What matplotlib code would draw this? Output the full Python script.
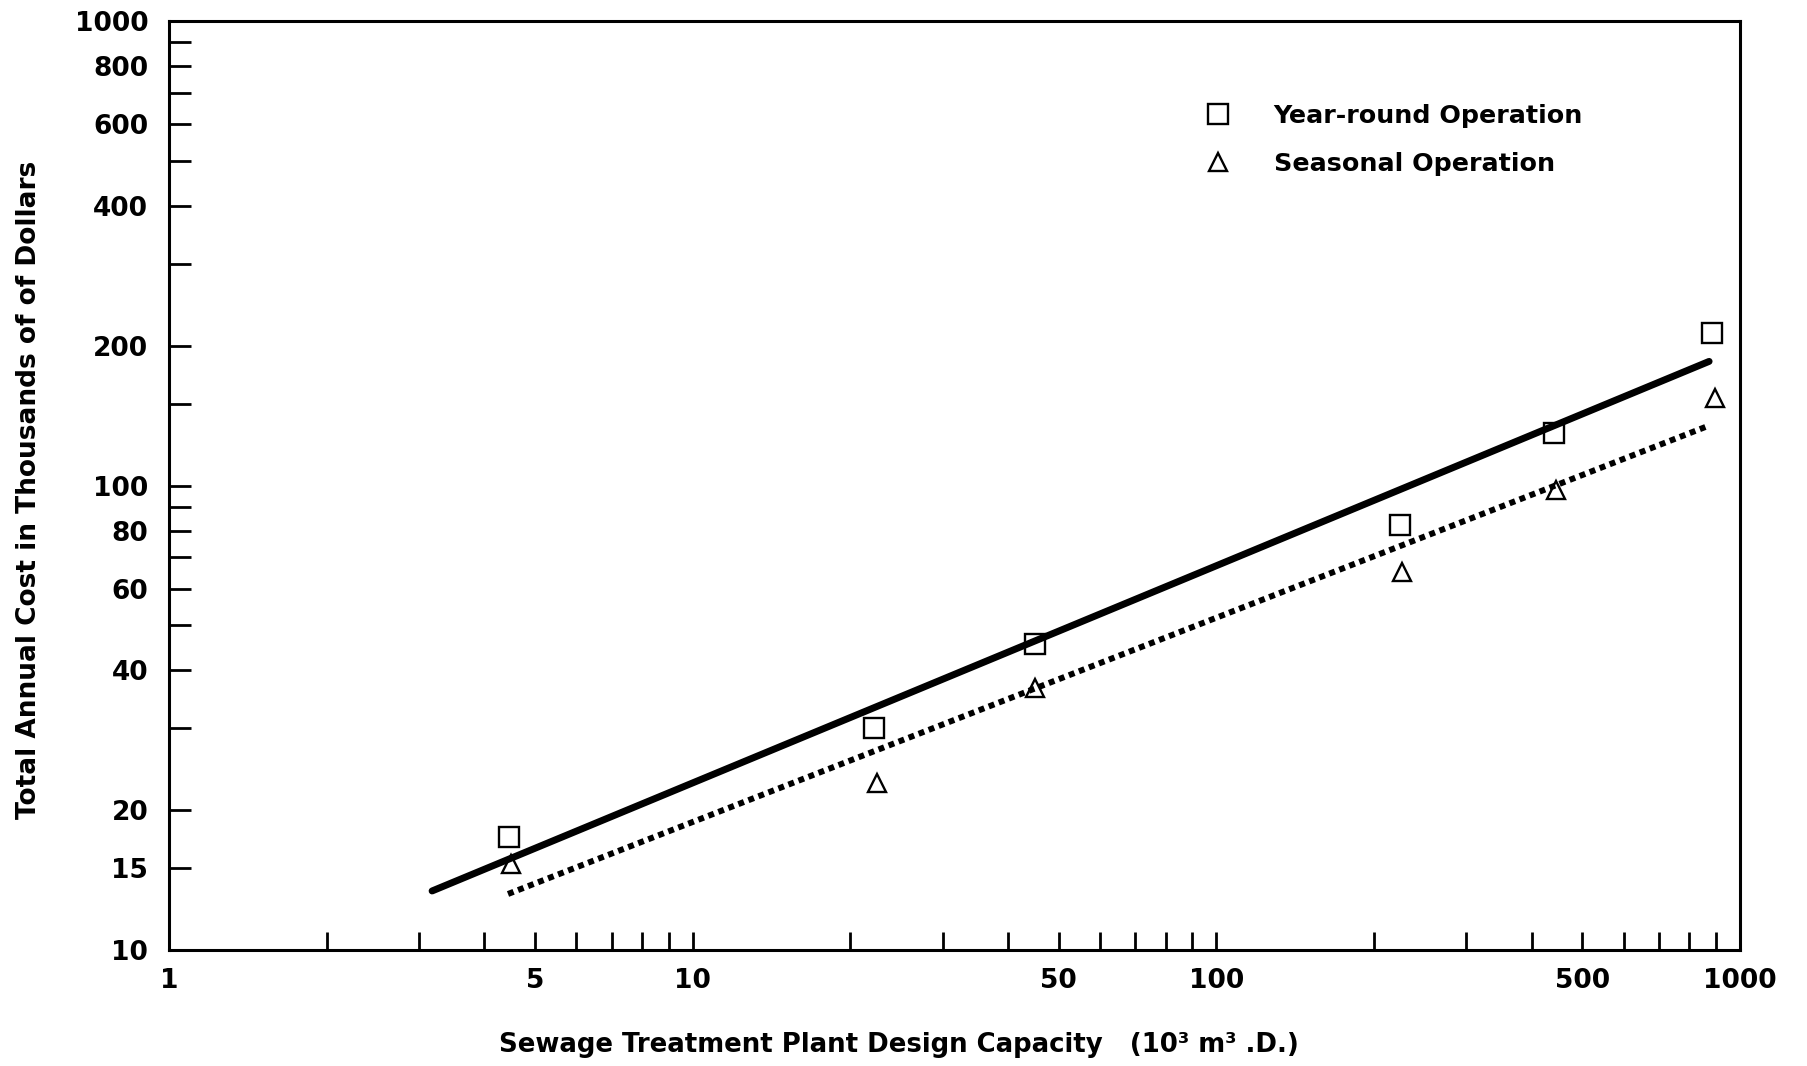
import matplotlib
matplotlib.use("Agg")
import matplotlib.pyplot as plt
from matplotlib.ticker import FixedLocator, NullFormatter, FixedFormatter

# ---- data ----
capacity_year = [4.45, 22.2, 45.0, 224, 442, 886]
cost_year = [17.5, 30.1, 45.5, 82.3, 130, 213]

capacity_seasonal = [4.5, 22.5, 45.0, 226, 445, 895]
cost_seasonal = [15.3, 22.9, 36.6, 65.1, 97.7, 154]

fit_year_x = [3.18, 873]
fit_year_y = [13.4, 185]
fit_seasonal_x = [4.44, 864]
fit_seasonal_y = [13.2, 134]

x_major = [1, 5, 10, 50, 100, 500, 1000]
x_major_labels = ["1", "5", "10", "50", "100", "500", "1000"]
x_minor = [2, 3, 4, 6, 7, 8, 9, 20, 30, 40, 60, 70, 80, 90,
           200, 300, 400, 600, 700, 800, 900]
y_major = [10, 15, 20, 40, 60, 80, 100, 200, 400, 600, 800, 1000]
y_major_labels = ["10", "15", "20", "40", "60", "80", "100", "200",
                  "400", "600", "800", "1000"]
y_minor = [30, 50, 70, 90, 150, 300, 500, 700, 900]

label_year = "Year-round Operation"
label_seasonal = "Seasonal Operation"
xlabel = "Sewage Treatment Plant Design Capacity   (10\u00b3 m\u00b3 .D.)"
ylabel = "Total Annual Cost in Thousands of of Dollars"

# ---- figure ----
plt.rcParams['font.family'] = ['DejaVu Sans']
plt.rcParams['font.weight'] = 'bold'
FS_TICK = 19
FS_XL = 18.7
FS_YL = 19
FS_LEG = 18.3

fig = plt.figure(figsize=(18.07, 10.66), dpi=100)
ax = fig.add_axes([169/1807, 1-950/1066, (1740-169)/1807, (950-21)/1066])
ax.set_xscale('log')
ax.set_yscale('log')
ax.set_xlim(1, 1000)
ax.set_ylim(10, 1000)

ax.plot(fit_year_x, fit_year_y, color='black', lw=5.0, solid_capstyle='round', zorder=3)
ax.plot(fit_seasonal_x, fit_seasonal_y, color='black', lw=4.3,
        dashes=(1, 0.8), dash_capstyle='butt', zorder=3)

ax.plot(capacity_year, cost_year, linestyle='none', marker='s', markersize=15,
        markerfacecolor='none', markeredgecolor='black', markeredgewidth=1.7,
        label=label_year, zorder=4)
ax.plot(capacity_seasonal, cost_seasonal, linestyle='none', marker='^', markersize=13,
        markerfacecolor='none', markeredgecolor='black', markeredgewidth=1.7,
        label=label_seasonal, zorder=4)

for s in ax.spines.values():
    s.set_linewidth(2.2)

ax.xaxis.set_major_locator(FixedLocator(x_major))
ax.xaxis.set_major_formatter(FixedFormatter(x_major_labels))
ax.xaxis.set_minor_locator(FixedLocator(x_minor))
ax.xaxis.set_minor_formatter(NullFormatter())
ax.yaxis.set_major_locator(FixedLocator(y_major))
ax.yaxis.set_major_formatter(FixedFormatter(y_major_labels))
ax.yaxis.set_minor_locator(FixedLocator(y_minor))
ax.yaxis.set_minor_formatter(NullFormatter())

ax.tick_params(axis='x', which='both', direction='in', length=13, width=2.0,
               labelsize=FS_TICK, pad=13, top=False)
ax.tick_params(axis='y', which='both', direction='in', length=16, width=2.0,
               labelsize=FS_TICK, pad=15, right=False)
for t in ax.get_xticklabels() + ax.get_yticklabels():
    t.set_fontweight('bold')

fig.text(899/1807, 1-1045/1066, xlabel, ha='center', va='center',
         fontsize=FS_XL, fontweight='bold')
fig.text(29/1807, 1-490/1066, ylabel, ha='center', va='center',
         rotation=90, fontsize=FS_YL, fontweight='bold')

leg = ax.legend(loc='upper left', bbox_to_anchor=(1205/1807, 1-104/1066),
                bbox_transform=fig.transFigure, frameon=False, fontsize=FS_LEG,
                handlelength=1.0, handletextpad=1.7, labelspacing=0.95,
                borderpad=0, borderaxespad=0, numpoints=1)
for t in leg.get_texts():
    t.set_fontweight('bold')

fig.savefig('out.png', dpi=100)
